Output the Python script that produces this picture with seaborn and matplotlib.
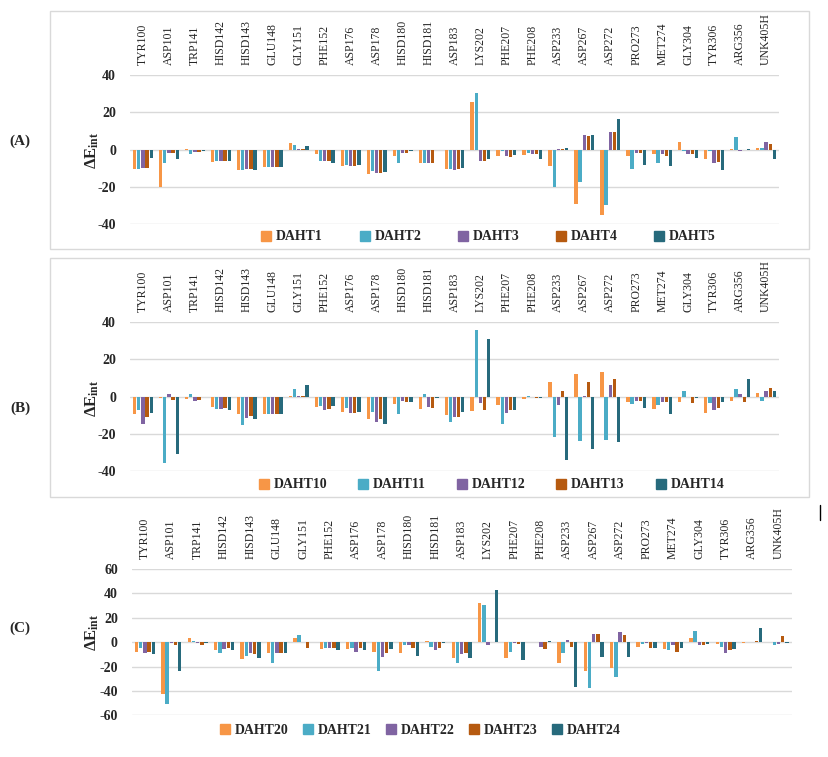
import matplotlib
matplotlib.use("Agg")
import matplotlib.pyplot as plt
from matplotlib.lines import Line2D
from matplotlib.patches import Rectangle
import seaborn as sns
import pandas as pd

sns.set_theme(style="white")
plt.rcParams['font.family'] = ['Liberation Serif', 'DejaVu Serif']
plt.rcParams['axes.unicode_minus'] = False
plt.rcParams['mathtext.fontset'] = 'custom'
plt.rcParams['mathtext.rm'] = 'Liberation Serif'
plt.rcParams['mathtext.bf'] = 'Liberation Serif:bold'
plt.rcParams['mathtext.it'] = 'Liberation Serif:italic'

residues = ["TYR100", "ASP101", "TRP141", "HISD142", "HISD143", "GLU148", "GLY151",
            "PHE152", "ASP176", "ASP178", "HISD180", "HISD181", "ASP183", "LYS202",
            "PHE207", "PHE208", "ASP233", "ASP267", "ASP272", "PRO273", "MET274",
            "GLY304", "TYR306", "ARG356", "UNK405H"]

# Panel A
DAHT1 = [-10.5, -20.2, 0.5, -6.8, -11, -9.5, 3.8, -2.5, -9, -13.2, -3.6, -7.3, -10.5,
         25.4, -3.6, -3, -9, -29.3, -35.2, -3.6, -2.5, 4.3, -5.2, 0.5, 1.1]
DAHT2 = [-10.5, -7.3, -2.5, -6.2, -11, -9.5, 2.7, -6.2, -8.4, -11.6, -7.3, -7.3, -10.5,
         30.2, -0.9, -2, -20.2, -17.5, -29.8, -10.5, -7.3, -0.9, -0.9, 7, 1.1]
DAHT3 = [-10, -1.8, -1.4, -6.2, -10.5, -9.5, 0.5, -6.2, -9, -12.7, -2, -7.3, -11,
         -6.2, -3.6, -2.5, 0.5, 8, 9.6, -2, -2.5, -2.5, -7.3, -0.9, 4.3]
DAHT4 = [-10, -2, -1.4, -6.2, -10.5, -9.5, 0.5, -6.2, -9, -12.7, -2, -7.3, -10.5,
         -6.2, -4.1, -2.5, 0.5, 7.5, 9.6, -2, -3.6, -2.5, -6.8, 0, 3.2]
DAHT5 = [-4.6, -4.8, -0.9, -6.2, -11, -9.5, 1.8, -7.3, -8.4, -12.1, -0.9, 0, -10,
         -5.2, -3, -5.2, 1.1, 8, 16.6, -8.4, -9, -4.6, -11, 0.5, -5.2]

# Panel B
DAHT10 = [-9.6, -0.9, -1.4, -5.7, -9.5, -9.5, 0.5, -5.7, -8.4, -12.1, -4.1, -6.8, -10,
          -7.9, -4.6, -1.4, 7.5, 11.8, 12.9, -3, -6.8, -3, -8.9, -2.5, 2.1]
DAHT11 = [-7.3, -35.7, 1.6, -6.8, -15.4, -9.5, 3.75, -5.2, -6.2, -8.4, -9.5, 1.6, -13.75,
          35.4, -14.8, 0.5, -21.8, -23.9, -23.4, -4.1, -4.6, 2.7, -3.6, 3.75, -2.5]
DAHT12 = [-14.5, 1.6, -2.3, -6.8, -11.6, -9.5, 0.5, -7.3, -8.9, -13.75, -2.5, -5.7, -11,
          -3.6, -8.9, 0, -4.6, 0.5, 6.4, -2.5, -3, 0, -7.3, 1.6, 3.2]
DAHT13 = [-11, -2, -2, -6.2, -10.5, -9.5, 0.5, -6.8, -8.9, -12.1, -3, -6.2, -11,
          -7.3, -7.3, -0.9, 2.7, 7.5, 9.6, -2.5, -3, -3.6, -6.2, -3, 4.3]
DAHT14 = [-8.9, -30.9, 0, -7.3, -12.1, -9.5, 5.9, -5.2, -8.4, -14.8, -3, -0.9, -8.4,
          30.5, -7.3, -0.9, -34.1, -28.2, -24.5, -6.2, -9.5, -0.9, -3, 9.1, 3.2]

# Panel C
DAHT20 = [-7.7, -42.2, 3.6, -6.8, -14.2, -9.3, 3.6, -6, -6, -7.7, -9.3, 1.1, -13.4,
          32.3, -12.6, 0, -17.5, -23.3, -21.6, -3.6, -6, 3.6, -1.9, -1.1, 0]
DAHT21 = [-5.2, -50.4, 1.1, -9.3, -11, -16.7, 6, -5.2, -5.2, -23.3, -2.7, -3.6, -17.5,
          30.7, -7.7, 0, -9.3, -37.3, -28.2, -1.9, -6.8, 9.3, -3.6, 0, -2.7]
DAHT22 = [-9.3, -1.1, -1.1, -6, -9.3, -9.3, 0, -5.2, -7.7, -11.8, -2.7, -6.8, -10.1,
          -2.7, -1.1, -3.6, 1.9, 6.8, 8.5, -1.1, -2.7, -2.7, -9.3, 0, -1.9]
DAHT23 = [-7.7, -2.7, -2.7, -5.2, -10.1, -8.5, -4.4, -4.4, -4.4, -9.3, -4.4, -4.4, -9.3,
          0, -1.9, -6, -3.6, 6.8, 6, -5.2, -7.7, -2.7, -6.8, 1.1, 5.2]
DAHT24 = [-10.1, -23.3, -1.1, -6.8, -13.4, -9.3, 0, -6.8, -6.8, -6, -11, -1.1, -13.4,
          43, -15, 1.1, -36.4, -11.8, -11.8, -4.4, -5.2, -1.9, -6, 11.8, -1.1]

colors = ["#F79646", "#4BACC6", "#8064A2", "#B65A10", "#276A7C"]

W, H = 829, 757
fig = plt.figure(figsize=(W / 100, H / 100), dpi=100)


def fx(px):
    return px / W


def fy(py):
    return 1 - py / H


panels = [
    dict(tag="(A)", series={"DAHT1": DAHT1, "DAHT2": DAHT2, "DAHT3": DAHT3, "DAHT4": DAHT4, "DAHT5": DAHT5},
         box=(130, 75, 779, 224.3), lim=40, ticks=[-40, -20, 0, 20, 40],
         leg=(489, 237, 2.7), ylab=150, tagy=141),
    dict(tag="(B)", series={"DAHT10": DAHT10, "DAHT11": DAHT11, "DAHT12": DAHT12, "DAHT13": DAHT13, "DAHT14": DAHT14},
         box=(130, 321.7, 779, 471.3), lim=40, ticks=[-40, -20, 0, 20, 40],
         leg=(492, 485, 2.3), ylab=398, tagy=408),
    dict(tag="(C)", series={"DAHT20": DAHT20, "DAHT21": DAHT21, "DAHT22": DAHT22, "DAHT23": DAHT23, "DAHT24": DAHT24},
         box=(131.7, 569, 791.7, 715.3), lim=60, ticks=[-60, -40, -20, 0, 20, 40, 60],
         leg=(421, 730, 1.1), ylab=632, tagy=628),
]

for p in panels:
    x0, y0, x1, y1 = p["box"]
    ax = fig.add_axes([fx(x0), fy(y1), fx(x1) - fx(x0), fy(y0) - fy(y1)])
    names = list(p["series"].keys())
    df = pd.DataFrame({
        "residue": residues * len(names),
        "series": [n for n in names for _ in residues],
        "value": [v for n in names for v in p["series"][n]],
    })
    sns.barplot(data=df, x="residue", y="value", hue="series", order=residues,
                hue_order=names, palette=colors, width=0.8, gap=0.2, saturation=1,
                errorbar=None, legend=False, ax=ax, linewidth=0)
    ax.set_ylim(-p["lim"], p["lim"])
    ax.set_yticks(p["ticks"])
    ax.set_yticklabels([str(t) for t in p["ticks"]])
    ax.yaxis.grid(True, color="#D9D9D9", lw=1)
    ax.set_axisbelow(True)
    for s in ax.spines.values():
        s.set_visible(False)
    ax.set_xlabel("")
    ax.set_ylabel("")
    ax.xaxis.tick_top()
    ax.tick_params(axis="x", length=0, pad=7, labelrotation=90, labelsize=8.5)
    ax.tick_params(axis="y", length=0, pad=10, labelsize=10)
    for lbl in ax.get_yticklabels():
        lbl.set_fontweight("bold")
    ax.set_xlim(-0.5, len(residues) - 0.5)

    handles = [Line2D([], [], marker="s", ls="", color=c, markersize=7) for c in colors]
    lx, ly, cs = p["leg"]
    ax.legend(handles, names, ncol=5, loc="center", bbox_to_anchor=(fx(lx), fy(ly)),
              bbox_transform=fig.transFigure, frameon=False,
              prop=dict(weight="bold", size=10), handlelength=0.6, handletextpad=0.4,
              columnspacing=cs, borderaxespad=0, borderpad=0)

    fig.text(fx(92), fy(p["ylab"]), r"$\mathbf{\Delta E_{int}}$", rotation=90,
             ha="center", va="center", fontsize=12)
    fig.text(fx(20), fy(p["tagy"]), p["tag"], ha="center", va="center",
             fontsize=11, fontweight="bold")

# panel frames
fig.add_artist(Rectangle((fx(50), fy(249)), fx(809) - fx(50), fy(10.7) - fy(249),
                         transform=fig.transFigure, fill=False, ec="#D9D9D9", lw=1))
fig.add_artist(Rectangle((fx(50), fy(497)), fx(809) - fx(50), fy(258) - fy(497),
                         transform=fig.transFigure, fill=False, ec="#D9D9D9", lw=1))
fig.add_artist(Line2D([fx(820), fx(820)], [fy(505), fy(520)], transform=fig.transFigure,
                      color="black", lw=1))

fig.savefig("out.png", dpi=100, facecolor="white")
